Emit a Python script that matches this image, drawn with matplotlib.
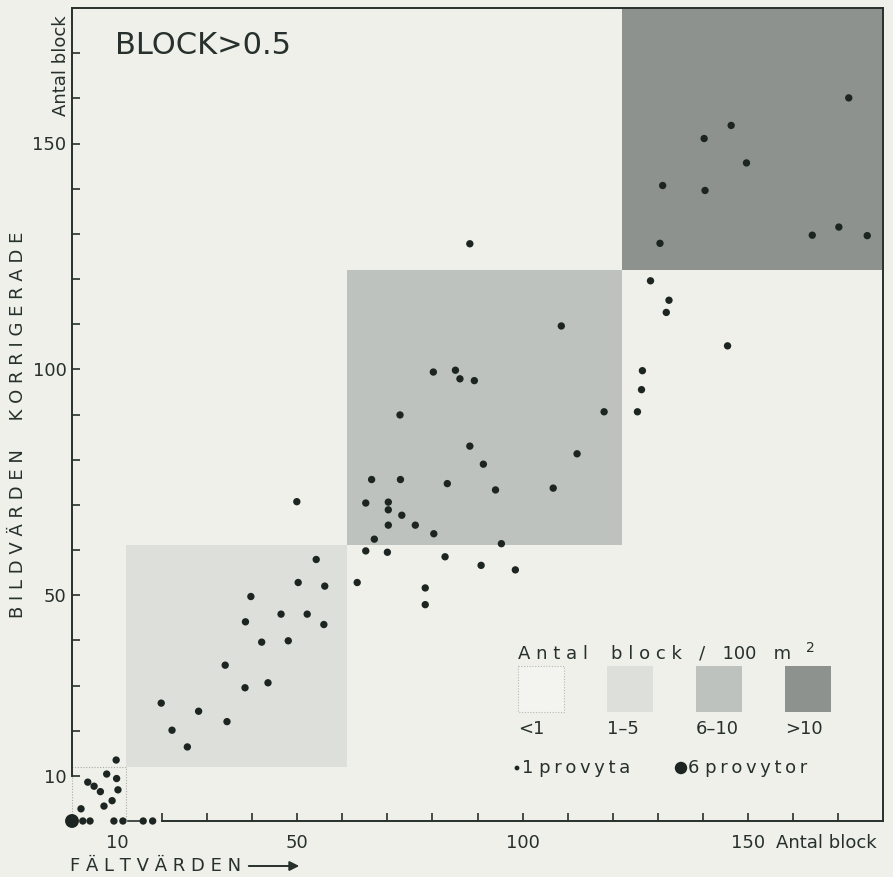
"""Field values vs corrected image values of block counts, BLOCK > 0.5."""

import matplotlib

matplotlib.use("Agg")  # headless
import matplotlib.pyplot as plt  # noqa: E402
from matplotlib.patches import Rectangle  # noqa: E402

# --- data ---------------------------------------------------------------------
# x = fältvärden (field values), y = korrigerade bildvärden (corrected image values)
falt = [
    0.0, 2.4, 4.0, 9.3, 11.3, 15.8, 17.9,
    2.0, 7.1, 8.9, 6.3, 10.2, 4.9, 3.5, 9.9, 7.7, 9.8,
    19.8, 22.2, 25.6, 28.1, 34.4, 34.0, 38.4, 43.5, 42.1, 48.0,
    38.5, 39.7, 46.4, 52.2, 55.9, 50.2, 56.1, 54.2, 63.3,
    49.9, 65.2, 67.1, 65.2, 70.0, 70.2, 70.2, 70.2, 73.2, 76.2,
    80.3, 66.5, 72.9, 83.3, 72.8, 80.2, 85.1, 86.1, 89.3, 88.3,
    91.3, 94.0, 95.3, 90.8, 98.4, 82.8, 78.4, 78.4, 106.8, 112.1,
    118.1, 108.6, 88.3,
    125.5, 126.4, 126.6, 145.5, 131.9, 132.5, 128.4,
    130.5, 131.1, 140.5, 149.7, 140.3, 146.3, 172.4, 164.3, 170.2, 176.5,
]
bild = [
    0.0, 0.0, 0.0, 0.0, 0.0, 0.0, 0.0,
    2.7, 3.3, 4.5, 6.5, 6.9, 7.7, 8.6, 9.4, 10.4, 13.5,
    26.1, 20.1, 16.4, 24.3, 22.0, 34.5, 29.5, 30.6, 39.6, 39.9,
    44.1, 49.7, 45.8, 45.8, 43.5, 52.8, 52.0, 57.9, 52.8,
    70.7, 70.4, 62.4, 59.8, 59.5, 70.6, 68.9, 65.5, 67.7, 65.5,
    63.6, 75.6, 75.6, 74.7, 89.9, 99.4, 99.8, 97.9, 97.5, 83.0,
    79.0, 73.3, 61.4, 56.6, 55.6, 58.5, 51.6, 47.9, 73.7, 81.3,
    90.6, 109.6, 127.8,
    90.6, 95.5, 99.7, 105.2, 112.6, 115.3, 119.6,
    127.9, 140.7, 139.6, 145.7, 151.1, 154.0, 160.1, 129.7, 131.5, 129.6,
]
provytor = [6] + [1] * (len(falt) - 1)  # number of sample plots per point

zone_edges = [0, 12, 61, 122, 180]
zone_labels = ["<1", "1\u20135", "6\u201310", ">10"]

x_ticks = list(range(20, 180, 10))
x_labels = {50: "50", 100: "100", 150: "150"}
y_ticks = list(range(10, 180, 10))
y_labels = {10: "10", 50: "50", 100: "100", 150: "150"}

# --- style --------------------------------------------------------------------
PAPER = "#eef0e9"
INK = "#27302d"
DOT = "#1c2521"
ZONE_COLORS = ["#f3f4ef", "#dcdfda", "#bec2be", "#8e928f"]
FS = 13
THIN = "\u2009"

W, H = 893, 877


def spaced(text, gap=" "):
    return gap.join(text)


fig = plt.figure(figsize=(W / 100, H / 100), dpi=100, facecolor=PAPER)
ax = fig.add_axes([72 / W, 56 / H, 811 / W, 813 / H], facecolor=PAPER)
ax.set_xlim(0, 180)
ax.set_ylim(0, 180)

# shaded zones along the diagonal
for i, color in enumerate(ZONE_COLORS):
    lo, hi = zone_edges[i], zone_edges[i + 1]
    if i == 0:
        ax.add_patch(Rectangle((lo, lo), hi - lo, hi - lo, fill=False,
                               edgecolor="#a9ada8", lw=0.8, ls=(0, (1, 1.5)), zorder=1))
    else:
        ax.add_patch(Rectangle((lo, lo), hi - lo, hi - lo, facecolor=color,
                               edgecolor="none", zorder=0))

sizes = [28 if n == 1 else 100 for n in provytor]
ax.scatter(falt, bild, s=sizes, color=DOT, edgecolors="none", zorder=3, clip_on=False)

# broken axes: y axis from 10, x axis from 20
for side in ax.spines.values():
    side.set_color(INK)
    side.set_linewidth(1.4)
ax.spines["left"].set_bounds(10, 180)
ax.spines["bottom"].set_bounds(20, 180)
ax.plot([12.5, 15.3], [0, 0], color=INK, lw=1.2, clip_on=False, zorder=2)

ax.set_xticks(x_ticks, [x_labels.get(t, "") for t in x_ticks])
ax.set_yticks(y_ticks, [y_labels.get(t, "") for t in y_ticks])
ax.set_xticks([10], ["10"], minor=True)
ax.tick_params(which="major", direction="in", length=6, width=1.2, color=INK,
               labelcolor=INK, labelsize=FS)
ax.tick_params(axis="x", which="both", pad=9)
ax.tick_params(axis="y", which="major", pad=4)
ax.tick_params(which="minor", length=0, labelcolor=INK, labelsize=FS)

ax.annotate("Antal block", xy=(156.2, 0), xytext=(0, -9), textcoords="offset points",
            ha="left", va="top", fontsize=FS, color=INK, annotation_clip=False)
ax.text(9.5, 171.8, "BLOCK>0.5", fontsize=22, color=INK, ha="left", va="center")

# overlay in pixel coordinates for labels and legend
ov = fig.add_axes([0, 0, 1, 1], facecolor="none")
ov.set_xlim(0, W)
ov.set_ylim(H, 0)
ov.axis("off")

ov.text(61, 66, "Antal block", rotation=90, ha="center", va="center",
        fontsize=FS, color=INK)
ov.text(18, 425, spaced("BILDVÄRDEN") + "     " + spaced("KORRIGERADE"), rotation=90,
        ha="center", va="center", fontsize=FS, color=INK)
ov.text(70, 866, spaced("FÄLTVÄRDEN"), ha="left", va="center", fontsize=FS, color=INK)
ov.annotate("", xy=(302, 866), xytext=(246, 866),
            arrowprops=dict(arrowstyle="-|>", color=INK, lw=1.4, mutation_scale=14))

# legend
ov.text(518, 653, spaced("Antal") + "    " + spaced("block") + "   /   100   m",
        ha="left", va="center", fontsize=FS, color=INK)
ov.text(806, 648, "2", ha="left", va="center", fontsize=10, color=INK)
box_x = [518, 607, 696, 785]
for i, (bx, lab) in enumerate(zip(box_x, zone_labels)):
    if i == 0:
        ov.add_patch(Rectangle((bx, 666), 46, 46, facecolor=ZONE_COLORS[0],
                               edgecolor="#b5b8b3", lw=0.8, ls=(0, (1, 1.5))))
    else:
        ov.add_patch(Rectangle((bx, 666), 46, 46, facecolor=ZONE_COLORS[i],
                               edgecolor="none"))
    ov.text(bx, 729, lab, ha="left", va="center", fontsize=FS, color=INK)

ov.scatter([517], [768], s=12, color=DOT, edgecolors="none")
ov.text(522, 768, "1 " + spaced("provyta", THIN), ha="left", va="center",
        fontsize=FS, color=INK)
ov.scatter([681], [768], s=80, color=DOT, edgecolors="none")
ov.text(688, 768, "6 " + spaced("provytor", THIN), ha="left", va="center",
        fontsize=FS, color=INK)

fig.savefig("out.png", dpi=100, facecolor=PAPER)
